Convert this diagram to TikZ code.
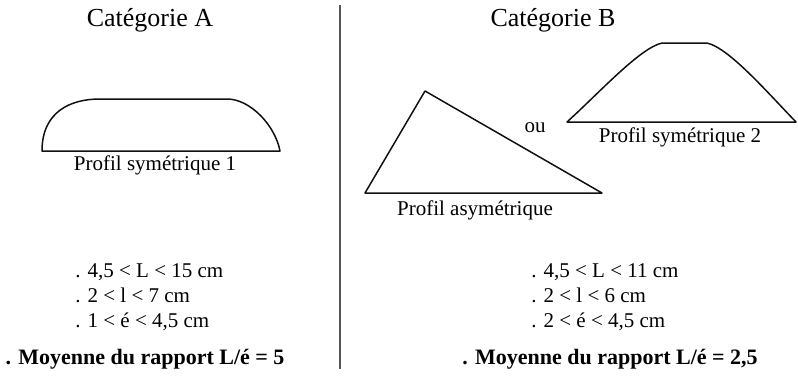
\documentclass[tikz,border=0pt]{standalone}
\usepackage{fontspec}
\setmainfont{Liberation Serif}
\usepackage{tikz}
\usetikzlibrary{positioning,calc}
\definecolor{trait}{HTML}{111111}
\definecolor{separ}{HTML}{555555}
\tikzset{
  titre/.style={font=\fontsize{13}{15}\selectfont,inner sep=0pt},
  legende/.style={font=\fontsize{10.5}{12}\selectfont,inner sep=0pt},
  critere/.style={font=\fontsize{10.5}{12.6}\selectfont,align=left,inner sep=0pt,anchor=north west},
  moyenne/.style={font=\fontsize{11}{13}\selectfont\bfseries,inner sep=0pt},
  profil/.style={draw=trait,line width=0.75pt,line join=round},
  separation/.style={draw=separ,line width=0.7pt},
}
\begin{document}
\begin{tikzpicture}[x=0.5pt,y=-0.5pt]
  \useasboundingbox (0,0) rectangle (798,375);
  % separation
  \coordinate (haut) at (340,5);
  \coordinate (bas) at (340,369);
  \draw[separation] (haut) -- (bas);
  % Categorie A
  \node[titre] (titreA) at (150,20) {Catégorie A};
  \draw[profil] (42,151) .. controls (42,112) and (70,99) .. (100,99) -- (227,99)
    .. controls (250,99) and (275,125) .. (280,151) -- cycle;
  \node[legende] (sym1) at (155,165) {Profil symétrique 1};
  \node[critere] (critA) at (75,263) {. 4,5 < L < 15 cm\\. 2 < l < 7 cm\\. 1 < é < 4,5 cm};
  \node[moyenne] (moyA) at (145,359) {. Moyenne du rapport L/é = 5};
  % Categorie B
  \node[titre] (titreB) at (553,20) {Catégorie B};
  \draw[profil] (365,193) -- (425,91) -- (602,193) -- cycle;
  \node[legende] (asym) at (475,210) {Profil asymétrique};
  \node[legende] (ou) at (535,128) {ou};
  \draw[profil] (567,122) .. controls (600,92) and (640,48) .. (662,43) -- (707,43)
    .. controls (729,48) and (767,92) .. (796,122) -- cycle;
  \node[legende] (sym2) at (680,137) {Profil symétrique 2};
  \node[critere] (critB) at (531,263) {. 4,5 < L < 11 cm\\. 2 < l < 6 cm\\. 2 < é < 4,5 cm};
  \node[moyenne] (moyB) at (610,359) {. Moyenne du rapport L/é = 2,5};
\end{tikzpicture}
\end{document}
